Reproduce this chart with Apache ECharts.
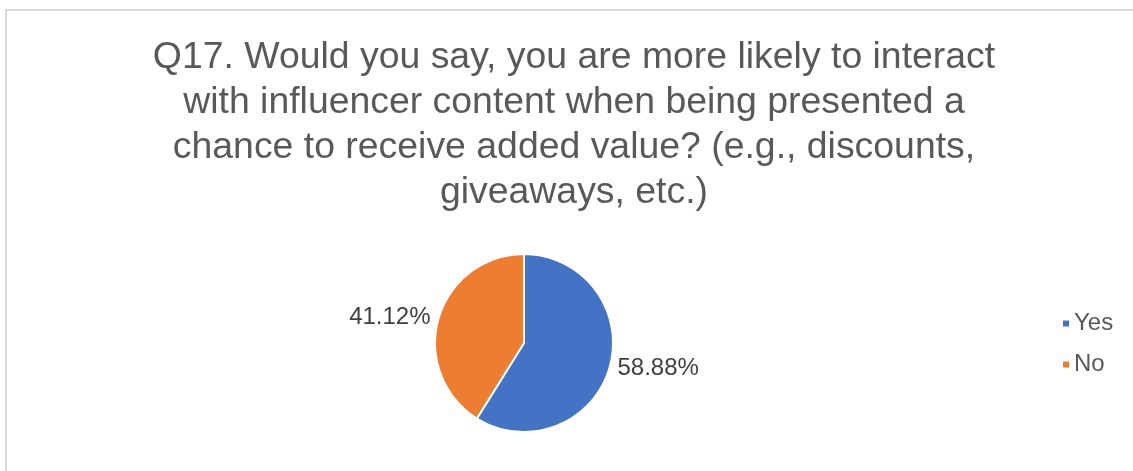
<!DOCTYPE html>
<html>
<head>
<meta charset="utf-8">
<script src="https://cdn.jsdelivr.net/npm/echarts@6/dist/echarts.min.js"></script>
<style>
  html, body { margin: 0; padding: 0; background: #fff; }
  #chart { width: 1133px; height: 471px; }
</style>
</head>
<body>
<div id="chart"></div>
<script>
// data
var titleText = 'Q17. Would you say, you are more likely to interact\nwith influencer content when being presented a\nchance to receive added value? (e.g., discounts,\ngiveaways, etc.)';
var categories = ['Yes', 'No'];
var values = [58.88, 41.12];
var colors = ['#4472c4', '#ed7d31'];

var chart = echarts.init(document.getElementById('chart'));

var pieData = categories.map(function (name, i) {
  return { name: name, value: values[i], itemStyle: { color: colors[i] } };
});

chart.setOption({
  animation: false,
  textStyle: { fontFamily: 'Liberation Sans, Arial, sans-serif' },
  graphic: [{
    type: 'rect',
    shape: { x: 6, y: 10, width: 1140, height: 470 },
    style: { fill: 'none', stroke: '#d9d9d9', lineWidth: 2 },
    silent: true
  }],
  title: {
    text: titleText,
    left: 569,
    top: 30,
    textAlign: 'center',
    textStyle: {
      fontSize: 37.4,
      fontWeight: 'normal',
      color: '#595959',
      lineHeight: 45
    }
  },
  legend: {
    orient: 'vertical',
    left: 1056,
    top: 305,
    itemGap: 14,
    icon: 'rect',
    itemWidth: 8,
    itemHeight: 8,
    textStyle: { fontSize: 24, color: '#595959', padding: [0, 0, 0, -1], lineHeight: 27 },
    data: categories
  },
  series: [{
    type: 'pie',
    center: [524, 343],
    radius: 89,
    startAngle: 90,
    clockwise: true,
    itemStyle: { borderColor: '#fff', borderWidth: 2 },
    label: {
      show: true,
      position: 'outside',
      formatter: function (p) { return p.value.toFixed(2) + '%'; },
      fontSize: 24,
      color: '#404040'
    },
    labelLine: { show: false, length: 3, length2: 0 },
    data: pieData
  }]
});
</script>
</body>
</html>
